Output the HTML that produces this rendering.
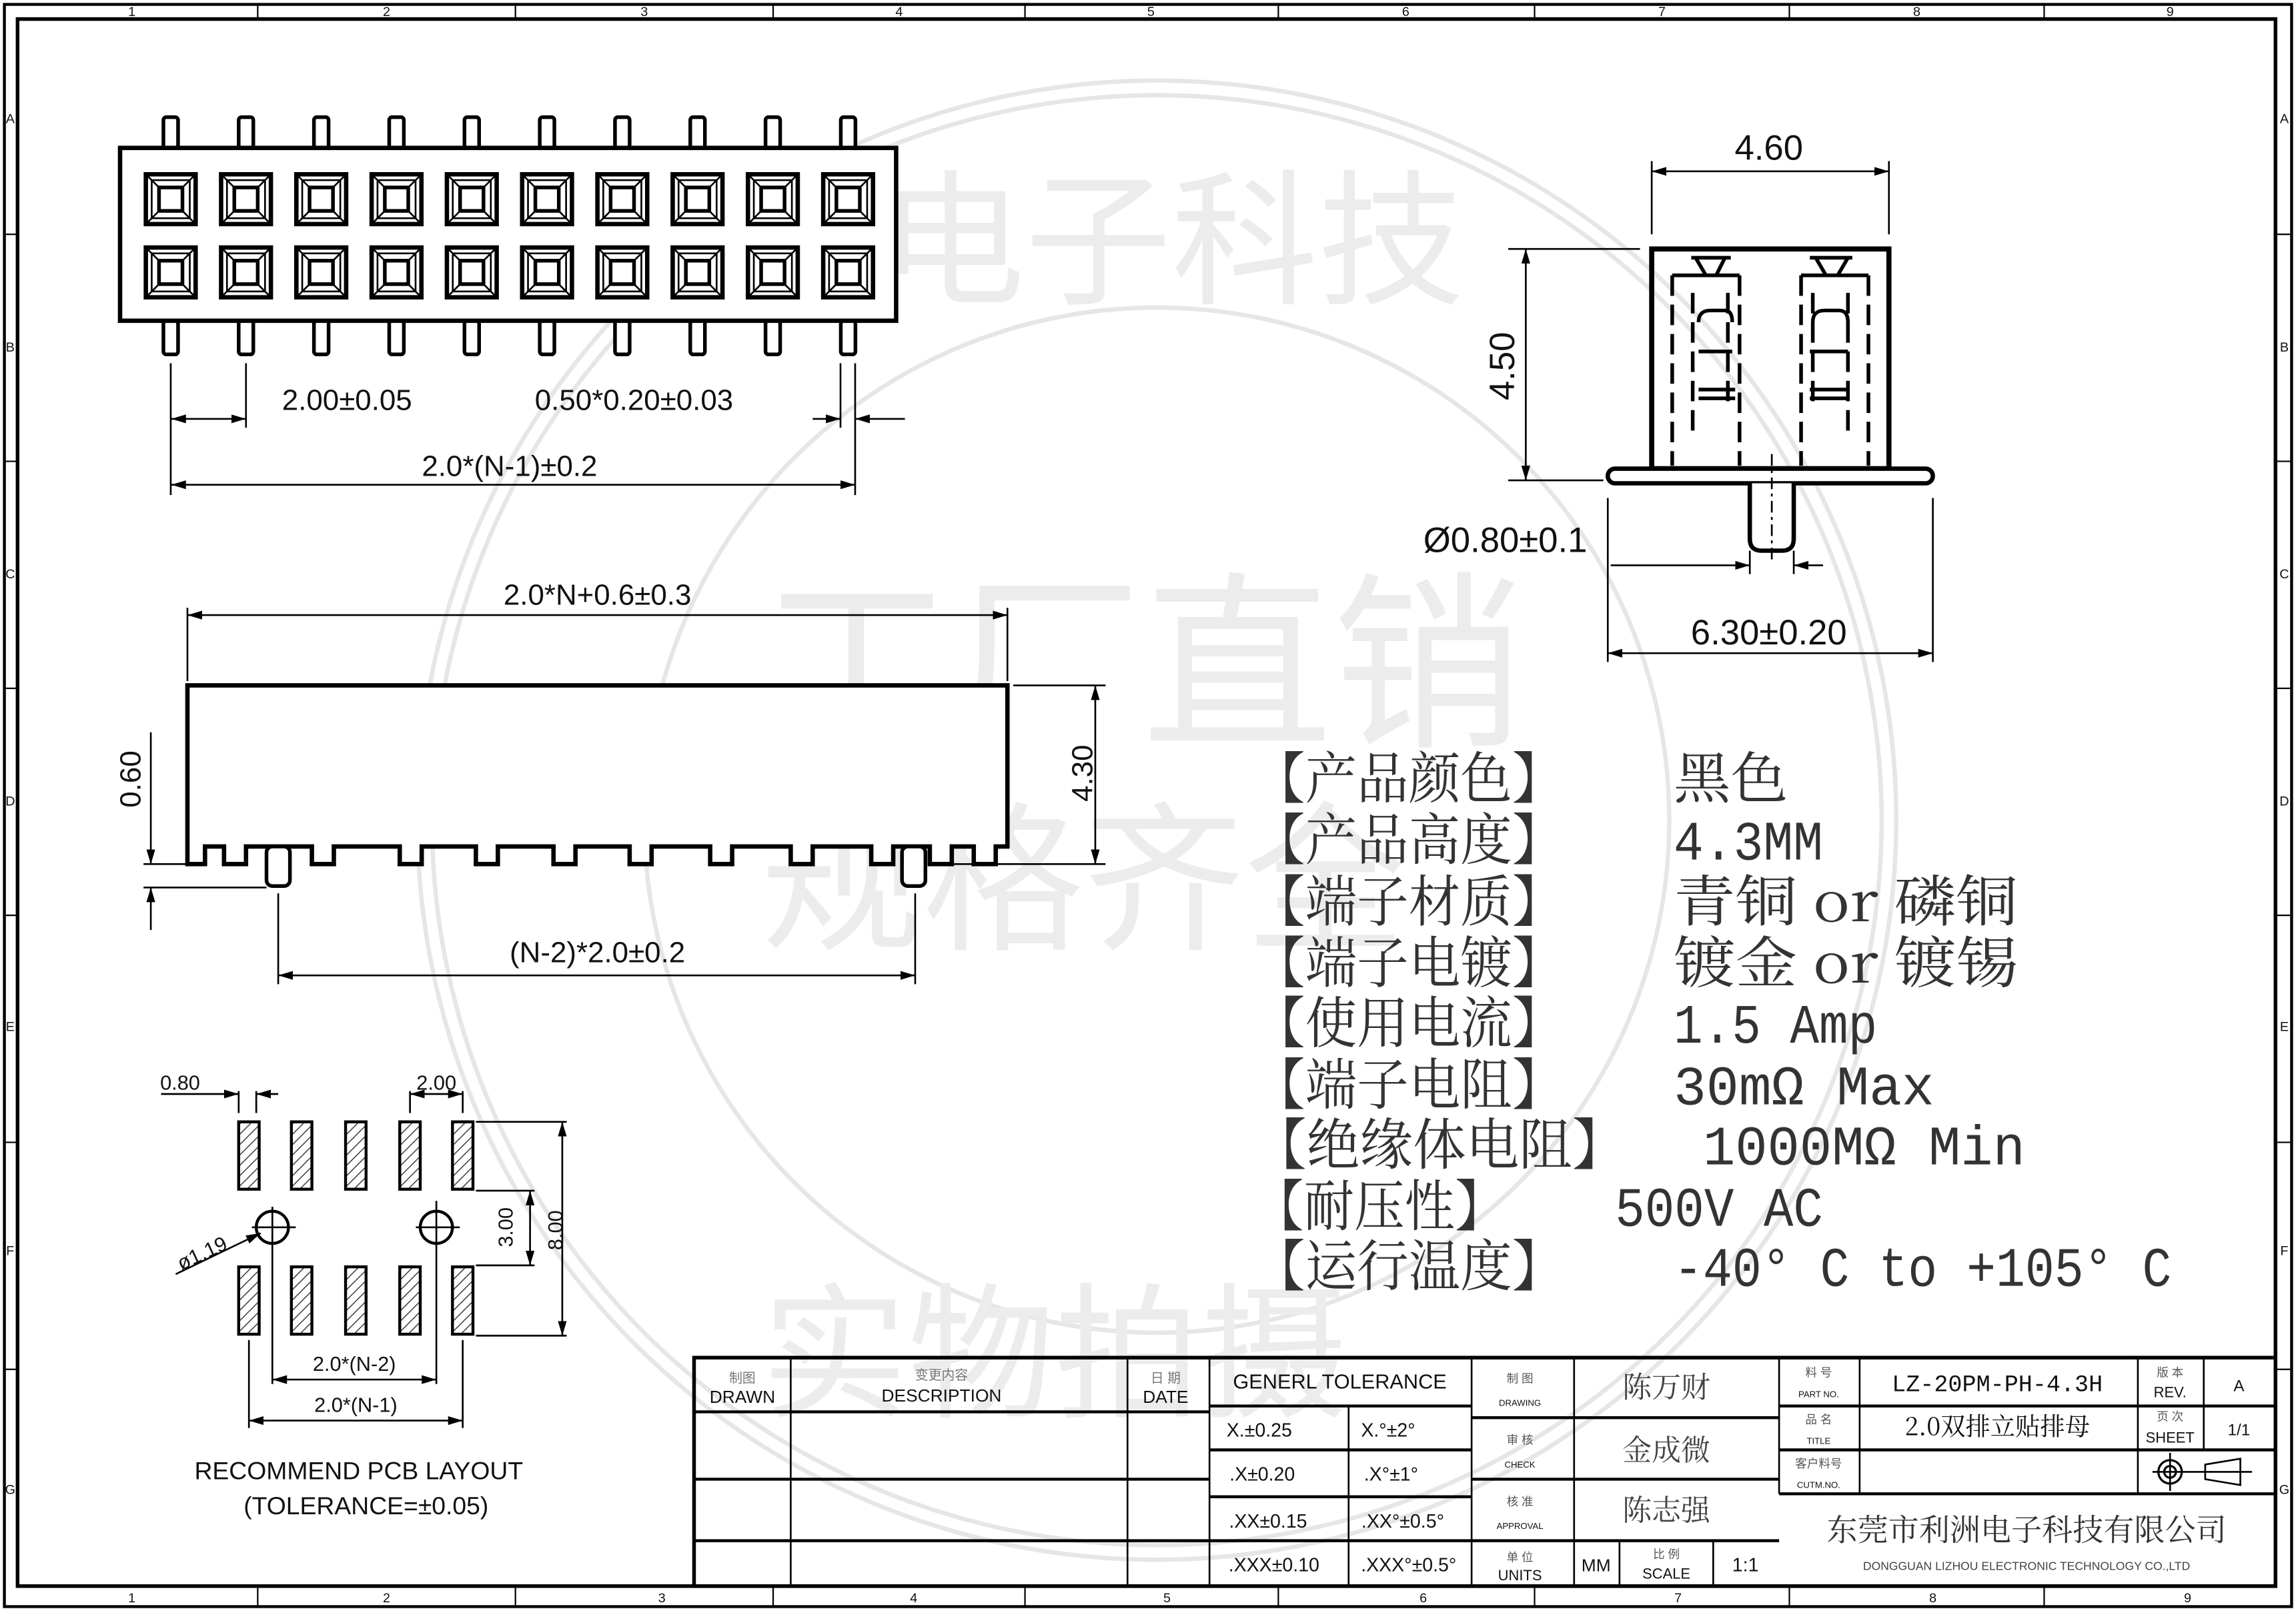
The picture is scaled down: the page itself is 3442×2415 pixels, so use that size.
<!DOCTYPE html>
<html><head><meta charset="utf-8">
<style>
html,body{margin:0;padding:0;background:#fff;}
svg{display:block;}
text{font-family:"Liberation Sans","Noto Sans CJK SC",sans-serif;fill:#111;}
.cj{font-family:"Noto Serif CJK SC","Noto Sans CJK SC",serif;}
.mono{font-family:"Liberation Mono","Noto Sans CJK SC",monospace;}
.wm{fill:#ececec;font-family:"Noto Sans CJK SC",sans-serif;}
.sp{fill:#333;}
</style></head>
<body>
<svg width="3442" height="2415" viewBox="0 0 1568 1100" preserveAspectRatio="none" xmlns="http://www.w3.org/2000/svg">
<defs>
<marker id="a" viewBox="0 0 10 6" refX="10" refY="3" markerWidth="10" markerHeight="6" orient="auto-start-reverse" markerUnits="userSpaceOnUse"><path d="M0,0 L10,3 L0,6 z" fill="#000"/></marker>
<pattern id="h" width="5" height="5" patternUnits="userSpaceOnUse" patternTransform="rotate(45)"><line x1="0" y1="0" x2="0" y2="5" stroke="#222" stroke-width="1.2"/></pattern>
<g id="sq"><rect x="-17" y="-17" width="34" height="34" fill="none" stroke="#000" stroke-width="3"/><rect x="-13" y="-13" width="26" height="26" fill="none" stroke="#000" stroke-width="1.2"/><rect x="-8" y="-8" width="16" height="16" fill="none" stroke="#000" stroke-width="2.5"/><path d="M-17,-17L-8,-8M17,-17L8,-8M-17,17L-8,8M17,17L8,8" stroke="#000" stroke-width="1.2"/></g>
<g id="pad"><rect x="-7" y="-23" width="14" height="46" fill="url(#h)" stroke="#000" stroke-width="2"/></g>
</defs>
<rect width="1568" height="1100" fill="#fff"/>
<!-- watermark -->
<g fill="none" stroke="#e6e6e6" stroke-width="3">
<circle cx="790" cy="560" r="505"/><circle cx="790" cy="560" r="495"/><circle cx="790" cy="560" r="350"/>
</g>
<text x="520" y="500" font-size="130" class="wm">工厂直销</text>
<text x="520" y="640" font-size="110" class="wm">规格齐全</text>
<text x="600" y="200" font-size="100" class="wm">电子科技</text>
<text x="520" y="960" font-size="100" class="wm">实物拍摄</text>
<!-- frame -->
<rect x="3" y="3" width="1562" height="1094" fill="none" stroke="#000" stroke-width="2"/>
<rect x="12" y="13" width="1542" height="1070" fill="none" stroke="#000" stroke-width="2.5"/>
<g stroke="#000" stroke-width="1">
<line x1="176" y1="3" x2="176" y2="13"/><line x1="352" y1="3" x2="352" y2="13"/><line x1="528" y1="3" x2="528" y2="13"/><line x1="700" y1="3" x2="700" y2="13"/><line x1="873" y1="3" x2="873" y2="13"/><line x1="1048" y1="3" x2="1048" y2="13"/><line x1="1222" y1="3" x2="1222" y2="13"/><line x1="1396" y1="3" x2="1396" y2="13"/>
<line x1="176" y1="1083" x2="176" y2="1097"/><line x1="352" y1="1083" x2="352" y2="1097"/><line x1="528" y1="1083" x2="528" y2="1097"/><line x1="700" y1="1083" x2="700" y2="1097"/><line x1="873" y1="1083" x2="873" y2="1097"/><line x1="1048" y1="1083" x2="1048" y2="1097"/><line x1="1222" y1="1083" x2="1222" y2="1097"/><line x1="1396" y1="1083" x2="1396" y2="1097"/>
<line x1="3" y1="160" x2="12" y2="160"/><line x1="3" y1="315" x2="12" y2="315"/><line x1="3" y1="470" x2="12" y2="470"/><line x1="3" y1="625" x2="12" y2="625"/><line x1="3" y1="780" x2="12" y2="780"/><line x1="3" y1="935" x2="12" y2="935"/>
<line x1="1554" y1="160" x2="1565" y2="160"/><line x1="1554" y1="315" x2="1565" y2="315"/><line x1="1554" y1="470" x2="1565" y2="470"/><line x1="1554" y1="625" x2="1565" y2="625"/><line x1="1554" y1="780" x2="1565" y2="780"/><line x1="1554" y1="935" x2="1565" y2="935"/>
</g>
<g font-size="9" text-anchor="middle">
<text x="90" y="11">1</text><text x="264" y="11">2</text><text x="440" y="11">3</text><text x="614" y="11">4</text><text x="786" y="11">5</text><text x="960" y="11">6</text><text x="1135" y="11">7</text><text x="1309" y="11">8</text><text x="1482" y="11">9</text>
<text x="90" y="1094">1</text><text x="264" y="1094">2</text><text x="452" y="1094">3</text><text x="624" y="1094">4</text><text x="797" y="1094">5</text><text x="972" y="1094">6</text><text x="1146" y="1094">7</text><text x="1320" y="1094">8</text><text x="1494" y="1094">9</text>
<text x="7" y="84">A</text><text x="7" y="240">B</text><text x="7" y="395">C</text><text x="7" y="550">D</text><text x="7" y="704">E</text><text x="7" y="857">F</text><text x="7" y="1020">G</text>
<text x="1560" y="84">A</text><text x="1560" y="240">B</text><text x="1560" y="395">C</text><text x="1560" y="550">D</text><text x="1560" y="704">E</text><text x="1560" y="857">F</text><text x="1560" y="1020">G</text>
</g>

<!-- TOP VIEW -->
<g stroke="#000" fill="#fff">
<g stroke-width="2.5">
<rect x="111.6" y="80" width="10" height="21" rx="2"/><rect x="163" y="80" width="10" height="21" rx="2"/><rect x="214.4" y="80" width="10" height="21" rx="2"/><rect x="265.8" y="80" width="10" height="21" rx="2"/><rect x="317.2" y="80" width="10" height="21" rx="2"/><rect x="368.6" y="80" width="10" height="21" rx="2"/><rect x="420" y="80" width="10" height="21" rx="2"/><rect x="471.4" y="80" width="10" height="21" rx="2"/><rect x="522.8" y="80" width="10" height="21" rx="2"/><rect x="574.2" y="80" width="10" height="21" rx="2"/>
<rect x="111.6" y="219" width="10" height="23" rx="2"/><rect x="163" y="219" width="10" height="23" rx="2"/><rect x="214.4" y="219" width="10" height="23" rx="2"/><rect x="265.8" y="219" width="10" height="23" rx="2"/><rect x="317.2" y="219" width="10" height="23" rx="2"/><rect x="368.6" y="219" width="10" height="23" rx="2"/><rect x="420" y="219" width="10" height="23" rx="2"/><rect x="471.4" y="219" width="10" height="23" rx="2"/><rect x="522.8" y="219" width="10" height="23" rx="2"/><rect x="574.2" y="219" width="10" height="23" rx="2"/>
<rect x="82" y="101" width="530" height="118" stroke-width="3"/>
</g>
</g>
<g>
<use href="#sq" x="116.6" y="136"/><use href="#sq" x="168" y="136"/><use href="#sq" x="219.4" y="136"/><use href="#sq" x="270.8" y="136"/><use href="#sq" x="322.2" y="136"/><use href="#sq" x="373.6" y="136"/><use href="#sq" x="425" y="136"/><use href="#sq" x="476.4" y="136"/><use href="#sq" x="527.8" y="136"/><use href="#sq" x="579.2" y="136"/>
<use href="#sq" x="116.6" y="186"/><use href="#sq" x="168" y="186"/><use href="#sq" x="219.4" y="186"/><use href="#sq" x="270.8" y="186"/><use href="#sq" x="322.2" y="186"/><use href="#sq" x="373.6" y="186"/><use href="#sq" x="425" y="186"/><use href="#sq" x="476.4" y="186"/><use href="#sq" x="527.8" y="186"/><use href="#sq" x="579.2" y="186"/>
</g>
<g stroke="#000" stroke-width="1.2" fill="none">
<line x1="116.6" y1="248" x2="116.6" y2="338"/><line x1="168" y1="248" x2="168" y2="292"/>
<line x1="574" y1="248" x2="574" y2="292"/><line x1="584" y1="248" x2="584" y2="338"/>
<line x1="117" y1="286" x2="168" y2="286" marker-start="url(#a)" marker-end="url(#a)"/>
<line x1="555" y1="286" x2="574" y2="286" marker-end="url(#a)"/><line x1="618" y1="286" x2="584" y2="286" marker-end="url(#a)"/>
<line x1="117" y1="331" x2="584" y2="331" marker-start="url(#a)" marker-end="url(#a)"/>
</g>
<g font-size="20" text-anchor="middle">
<text x="237" y="280">2.00±0.05</text>
<text x="433" y="280">0.50*0.20±0.03</text>
<text x="348" y="325">2.0*(N-1)±0.2</text>
</g>

<!-- SIDE VIEW -->
<g stroke="#000" stroke-width="1.2" fill="none">
<line x1="128" y1="415" x2="128" y2="465"/><line x1="688" y1="415" x2="688" y2="465"/>
<line x1="128" y1="420" x2="688" y2="420" marker-start="url(#a)" marker-end="url(#a)"/>
<line x1="692" y1="468" x2="755" y2="468"/><line x1="636" y1="590" x2="755" y2="590"/>
<line x1="748" y1="468" x2="748" y2="590" marker-start="url(#a)" marker-end="url(#a)"/>
<line x1="98" y1="590" x2="130" y2="590"/><line x1="98" y1="606" x2="182" y2="606"/>
<line x1="103" y1="500" x2="103" y2="590" marker-end="url(#a)"/><line x1="103" y1="635" x2="103" y2="606" marker-end="url(#a)"/>
<line x1="190" y1="610" x2="190" y2="672"/><line x1="625" y1="610" x2="625" y2="672"/>
<line x1="190" y1="666" x2="625" y2="666" marker-start="url(#a)" marker-end="url(#a)"/>
</g>
<path d="M128,468 H688 V578 H680 V590 H665 V578 H650 V590 H635 V578 H610 V590 H595 V578 H555 V590 H540 V578 H500 V590 H485 V578 H445 V590 H430 V578 H393 V590 H378 V578 H340 V590 H325 V578 H288 V590 H273 V578 H228 V590 H213 V578 H168 V590 H153 V578 H140 V590 H128 Z" fill="#fff" stroke="#000" stroke-width="3"/>
<rect x="182" y="578" width="16" height="27" rx="4" fill="#fff" stroke="#000" stroke-width="2.5"/>
<rect x="616" y="578" width="16" height="27" rx="4" fill="#fff" stroke="#000" stroke-width="2.5"/>
<g font-size="20" text-anchor="middle">
<text x="408" y="413">2.0*N+0.6±0.3</text>
<text x="408" y="657">(N-2)*2.0±0.2</text>
<text transform="translate(746,528) rotate(-90)">4.30</text>
<text transform="translate(96,532) rotate(-90)">0.60</text>
</g>

<!-- END VIEW -->
<g stroke="#000" fill="none">
<line x1="1128" y1="110" x2="1128" y2="160" stroke-width="1.2"/><line x1="1290" y1="110" x2="1290" y2="160" stroke-width="1.2"/>
<line x1="1128" y1="117" x2="1290" y2="117" stroke-width="1.2" marker-start="url(#a)" marker-end="url(#a)"/>
<line x1="1030" y1="170" x2="1120" y2="170" stroke-width="1.2"/><line x1="1030" y1="328" x2="1095" y2="328" stroke-width="1.2"/>
<line x1="1042" y1="170" x2="1042" y2="328" stroke-width="1.2" marker-start="url(#a)" marker-end="url(#a)"/>
<rect x="1128" y="170" width="162" height="150" stroke-width="3.5"/>
<rect x="1098" y="320" width="222" height="10" rx="5" stroke-width="3" fill="#fff"/>
<path d="M1195,330 V368 Q1195,376 1203,376 H1217 Q1225,376 1225,368 V330" stroke-width="3" fill="#fff"/>
<g stroke-width="2.5" stroke-dasharray="14,6">
<path d="M1142,188 V318 M1188,188 V318 M1230,188 V318 M1276,188 V318"/>
<path d="M1156,200 V300 M1180,200 V280 M1238,200 V280 M1262,200 V300"/>
</g>
<g stroke-width="2.5">
<path d="M1142,188 H1188 M1230,188 H1276"/>
<path d="M1158,176 L1165,188 M1178,176 L1172,188 M1240,176 L1247,188 M1262,176 L1255,188 M1155,176 H1182 M1236,176 H1265"/>
<path d="M1160,220 Q1160,212 1168,212 H1178 Q1183,212 1183,220 M1238,220 Q1238,212 1246,212 H1256 Q1262,212 1262,220"/>
<path d="M1160,266 H1185 M1160,272 H1185 M1236,266 H1262 M1236,272 H1262 M1160,240 H1183 M1236,240 H1262"/>
</g>
<line x1="1210" y1="310" x2="1210" y2="385" stroke-width="1.2" stroke-dasharray="8,3,2,3"/>
<line x1="1195" y1="376" x2="1195" y2="392" stroke-width="1.2"/><line x1="1225" y1="376" x2="1225" y2="392" stroke-width="1.2"/>
<line x1="1100" y1="386" x2="1195" y2="386" stroke-width="1.2" marker-end="url(#a)"/><line x1="1245" y1="386" x2="1225" y2="386" stroke-width="1.2" marker-end="url(#a)"/>
<line x1="1098" y1="340" x2="1098" y2="452" stroke-width="1.2"/><line x1="1320" y1="340" x2="1320" y2="452" stroke-width="1.2"/>
<line x1="1098" y1="446" x2="1320" y2="446" stroke-width="1.2" marker-start="url(#a)" marker-end="url(#a)"/>
</g>
<g font-size="24" text-anchor="middle">
<text x="1208" y="109">4.60</text>
<text transform="translate(1034,250) rotate(-90)">4.50</text>
<text x="1028" y="377">Ø0.80±0.1</text>
<text x="1208" y="440">6.30±0.20</text>
</g>

<!-- SPECS -->
<g font-size="38">
<text x="856" y="545" class="cj sp" textLength="212" lengthAdjust="spacingAndGlyphs">【产品颜色】</text><text x="1143" y="545" class="cj sp" textLength="78" lengthAdjust="spacingAndGlyphs">黑色</text>
<text x="856" y="587" class="cj sp" textLength="212" lengthAdjust="spacingAndGlyphs">【产品高度】</text><text x="1143" y="587" class="mono sp" textLength="102" lengthAdjust="spacingAndGlyphs">4.3MM</text>
<text x="856" y="629" class="cj sp" textLength="212" lengthAdjust="spacingAndGlyphs">【端子材质】</text><text x="1143" y="629" class="cj sp" textLength="235" lengthAdjust="spacingAndGlyphs">青铜 or 磷铜</text>
<text x="856" y="671" class="cj sp" textLength="212" lengthAdjust="spacingAndGlyphs">【端子电镀】</text><text x="1143" y="671" class="cj sp" textLength="235" lengthAdjust="spacingAndGlyphs">镀金 or 镀锡</text>
<text x="856" y="712" class="cj sp" textLength="212" lengthAdjust="spacingAndGlyphs">【使用电流】</text><text x="1143" y="712" class="mono sp" textLength="139" lengthAdjust="spacingAndGlyphs">1.5 Amp</text>
<text x="856" y="754" class="cj sp" textLength="212" lengthAdjust="spacingAndGlyphs">【端子电阻】</text><text x="1143" y="754" class="mono sp" textLength="178" lengthAdjust="spacingAndGlyphs">30mΩ Max</text>
<text x="856" y="795" class="cj sp" textLength="254" lengthAdjust="spacingAndGlyphs">【绝缘体电阻】</text><text x="1163" y="795" class="mono sp" textLength="220" lengthAdjust="spacingAndGlyphs">1000MΩ Min</text>
<text x="856" y="837" class="cj sp" textLength="172" lengthAdjust="spacingAndGlyphs">【耐压性】</text><text x="1103" y="837" class="mono sp" textLength="142" lengthAdjust="spacingAndGlyphs">500V AC</text>
<text x="856" y="878" class="cj sp" textLength="212" lengthAdjust="spacingAndGlyphs">【运行温度】</text><text x="1143" y="878" class="mono sp" textLength="340" lengthAdjust="spacingAndGlyphs">-40° C to +105° C</text>
</g>

<!-- PCB LAYOUT -->
<g>
<use href="#pad" x="170" y="789"/><use href="#pad" x="206" y="789"/><use href="#pad" x="243" y="789"/><use href="#pad" x="280" y="789"/><use href="#pad" x="316" y="789"/>
<use href="#pad" x="170" y="888"/><use href="#pad" x="206" y="888"/><use href="#pad" x="243" y="888"/><use href="#pad" x="280" y="888"/><use href="#pad" x="316" y="888"/>
</g>
<g stroke="#000" stroke-width="1.2" fill="none">
<circle cx="186" cy="838" r="11" stroke-width="2"/><circle cx="298" cy="838" r="11" stroke-width="2"/>
<path d="M172,838 H202 M186,824 V945 M284,838 H314 M298,820 V945"/>
<line x1="120" y1="870" x2="178" y2="842" marker-end="url(#a)"/>
<path d="M163,760 V745 M175,760 V745 M280,760 V745 M316,760 V745"/>
<line x1="110" y1="747" x2="163" y2="747" marker-end="url(#a)"/><line x1="190" y1="747" x2="175" y2="747" marker-end="url(#a)"/>
<line x1="280" y1="747" x2="316" y2="747" marker-start="url(#a)" marker-end="url(#a)"/>
<path d="M325,766 H387 M325,813 H365 M325,864 H365 M325,912 H387"/>
<line x1="362" y1="813" x2="362" y2="864" marker-start="url(#a)" marker-end="url(#a)"/>
<line x1="384" y1="766" x2="384" y2="912" marker-start="url(#a)" marker-end="url(#a)"/>
<line x1="186" y1="942" x2="298" y2="942" marker-start="url(#a)" marker-end="url(#a)"/>
<path d="M170,915 V975 M316,915 V975"/>
<line x1="170" y1="970" x2="316" y2="970" marker-start="url(#a)" marker-end="url(#a)"/>
</g>
<g font-size="14" text-anchor="middle">
<text x="123" y="744">0.80</text><text x="298" y="744">2.00</text>
<text transform="translate(140,860) rotate(-25)">ø1.19</text>
<text transform="translate(350,838) rotate(-90)">3.00</text>
<text transform="translate(384,840) rotate(-90)">8.00</text>
<text x="242" y="936">2.0*(N-2)</text><text x="243" y="964">2.0*(N-1)</text>
<text x="245" y="1010" font-size="17">RECOMMEND PCB LAYOUT</text>
<text x="250" y="1034" font-size="17">(TOLERANCE=±0.05)</text>
</g>

<!-- TITLE BLOCK -->
<g stroke="#000" fill="none">
<rect x="474" y="927" width="1080" height="156" stroke-width="2.5"/>
<g stroke-width="1.2">
<line x1="540" y1="927" x2="540" y2="1083"/><line x1="770" y1="927" x2="770" y2="1083"/><line x1="826" y1="927" x2="826" y2="1083"/>
<line x1="921" y1="960" x2="921" y2="1083"/><line x1="1005" y1="927" x2="1005" y2="1083"/><line x1="1075" y1="927" x2="1075" y2="1083"/>
<line x1="1106" y1="1052" x2="1106" y2="1083"/><line x1="1170" y1="1052" x2="1170" y2="1083"/>
<line x1="1215" y1="927" x2="1215" y2="1020"/><line x1="1270" y1="927" x2="1270" y2="1020"/>
<line x1="1460" y1="927" x2="1460" y2="1020"/><line x1="1505" y1="927" x2="1505" y2="990"/>
</g>
<g stroke-width="2">
<line x1="474" y1="964" x2="826" y2="964"/><line x1="474" y1="1010" x2="826" y2="1010"/><line x1="474" y1="1052" x2="826" y2="1052"/>
<line x1="826" y1="960" x2="1005" y2="960"/><line x1="826" y1="990" x2="1005" y2="990"/><line x1="826" y1="1022" x2="1005" y2="1022"/><line x1="826" y1="1052" x2="1215" y2="1052"/>
<line x1="1005" y1="968" x2="1215" y2="968"/><line x1="1005" y1="1010" x2="1215" y2="1010"/>
<line x1="1215" y1="960" x2="1554" y2="960"/><line x1="1215" y1="990" x2="1554" y2="990"/><line x1="1215" y1="1020" x2="1554" y2="1020"/>
</g>
<circle cx="1482" cy="1005" r="8" stroke-width="1.5"/><circle cx="1482" cy="1005" r="4" stroke-width="1.5"/>
<path d="M1470,1005 H1538 M1482,992 V1018 M1506,1000 L1530,996 V1014 L1506,1010 Z" stroke-width="1.2"/>
</g>
<g font-size="12" text-anchor="middle">
<text x="507" y="944" font-size="9" style="fill:#777">制图</text><text x="507" y="958">DRAWN</text>
<text x="643" y="942" font-size="9" style="fill:#777">变更内容</text><text x="643" y="957">DESCRIPTION</text>
<text x="796" y="944" font-size="9" style="fill:#777">日 期</text><text x="796" y="958">DATE</text>
<text x="915" y="948" font-size="14">GENERL  TOLERANCE</text>
<text x="860" y="981" font-size="13">X.±0.25</text><text x="948" y="981" font-size="13">X.°±2°</text>
<text x="862" y="1011" font-size="13">.X±0.20</text><text x="950" y="1011" font-size="13">.X°±1°</text>
<text x="866" y="1043" font-size="13">.XX±0.15</text><text x="958" y="1043" font-size="13">.XX°±0.5°</text>
<text x="870" y="1073" font-size="13">.XXX±0.10</text><text x="962" y="1073" font-size="13">.XXX°±0.5°</text>
<text x="1038" y="944" font-size="8" style="fill:#555">制 图</text><text x="1038" y="960" font-size="6">DRAWING</text>
<text x="1038" y="986" font-size="8" style="fill:#555">审 核</text><text x="1038" y="1002" font-size="6">CHECK</text>
<text x="1038" y="1028" font-size="8" style="fill:#555">核 准</text><text x="1038" y="1044" font-size="6">APPROVAL</text>
<text x="1038" y="1066" font-size="8" style="fill:#555">单 位</text><text x="1038" y="1079" font-size="10">UNITS</text>
<text x="1090" y="1073" font-size="12">MM</text>
<text x="1138" y="1064" font-size="8" style="fill:#555">比 例</text><text x="1138" y="1078" font-size="10">SCALE</text>
<text x="1192" y="1073" font-size="13">1:1</text>
<text x="1138" y="954" font-size="20" class="cj" style="fill:#444">陈万财</text>
<text x="1138" y="997" font-size="20" class="cj" style="fill:#444">金成微</text>
<text x="1138" y="1038" font-size="20" class="cj" style="fill:#444">陈志强</text>
<text x="1242" y="940" font-size="8" style="fill:#555">料 号</text><text x="1242" y="954" font-size="6">PART NO.</text>
<text x="1242" y="972" font-size="8" style="fill:#555">品 名</text><text x="1242" y="986" font-size="6">TITLE</text>
<text x="1242" y="1002" font-size="8" style="fill:#555">客户料号</text><text x="1242" y="1016" font-size="6">CUTM.NO.</text>
<text x="1364" y="950" font-size="16" class="mono">LZ-20PM-PH-4.3H</text>
<text x="1364" y="980" font-size="17" class="cj">2.0双排立贴排母</text>
<text x="1482" y="940" font-size="8" style="fill:#555">版 本</text><text x="1482" y="954" font-size="10">REV.</text>
<text x="1529" y="950" font-size="11">A</text>
<text x="1482" y="970" font-size="8" style="fill:#555">页 次</text><text x="1482" y="985" font-size="10">SHEET</text>
<text x="1529" y="980" font-size="11">1/1</text>
<text x="1384" y="1052" font-size="21" class="cj" style="fill:#333">东莞市利洲电子科技有限公司</text>
<text x="1384" y="1072" font-size="8" style="fill:#444">DONGGUAN LIZHOU ELECTRONIC TECHNOLOGY CO.,LTD</text>
</g>
</svg>
</body></html>
